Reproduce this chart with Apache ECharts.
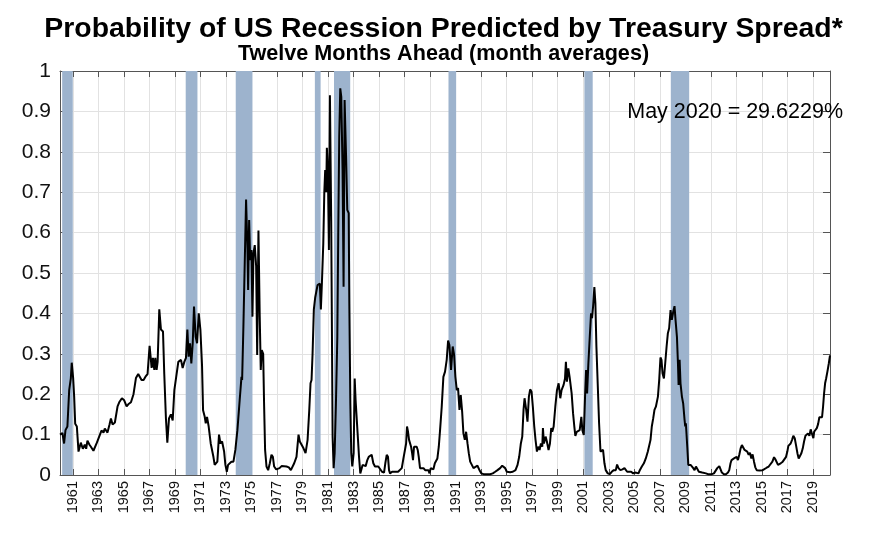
<!DOCTYPE html>
<html>
<head>
<meta charset="utf-8">
<script src="https://cdn.jsdelivr.net/npm/echarts@6/dist/echarts.min.js"></script>
<style>html,body{margin:0;padding:0;background:#fff}#c{width:887px;height:544px}</style>
</head>
<body>
<div id="c"></div>
<script>
// ---- DATA (decimal year, probability) ----
const seg1960s = [[1960.0,0.10],[1960.19,0.104],[1960.32,0.078],[1960.43,0.111],[1960.58,0.12],[1960.72,0.21],[1960.85,0.24],[1960.92,0.278],[1961.03,0.24],[1961.11,0.194],[1961.19,0.127],[1961.32,0.12],[1961.45,0.058],[1961.63,0.08],[1961.79,0.065],[1961.94,0.075],[1962.05,0.065],[1962.15,0.085],[1962.31,0.075],[1962.42,0.07],[1962.62,0.06],[1962.73,0.06],[1962.89,0.08],[1963.07,0.095],[1963.25,0.11],[1963.41,0.105],[1963.51,0.115],[1963.72,0.105],[1963.88,0.125],[1963.99,0.14],[1964.12,0.125],[1964.30,0.13],[1964.51,0.17],[1964.64,0.18],[1964.85,0.19],[1965.03,0.185],[1965.22,0.17],[1965.35,0.175],[1965.56,0.18],[1965.76,0.20],[1965.95,0.24],[1966.13,0.25],[1966.26,0.25],[1966.39,0.235],[1966.55,0.235],[1966.73,0.245],[1966.86,0.25],[1967.02,0.32],[1967.18,0.265],[1967.28,0.29],[1967.39,0.26],[1967.47,0.29],[1967.57,0.26],[1967.65,0.28],[1967.78,0.41],[1967.91,0.36],[1968.07,0.355],[1968.17,0.25],[1968.30,0.14],[1968.41,0.08],[1968.54,0.14],[1968.69,0.15],[1968.83,0.135],[1968.96,0.21],[1969.11,0.21],[1969.27,0.28],[1969.48,0.285],[1969.61,0.265],[1969.74,0.28],[1969.87,0.29]];
const seg1970s = [[1969.98,0.36],[1970.08,0.293],[1970.19,0.326],[1970.29,0.276],[1970.40,0.326],[1970.50,0.417],[1970.63,0.342],[1970.74,0.326],[1970.87,0.40],[1971.00,0.36],[1971.13,0.27],[1971.21,0.16],[1971.34,0.144],[1971.42,0.128],[1971.52,0.144],[1971.65,0.12],[1971.81,0.078],[1971.91,0.077],[1972.02,0.045],[1972.12,0.025],[1972.25,0.029],[1972.33,0.033],[1972.46,0.10],[1972.57,0.078],[1972.70,0.083],[1972.86,0.058],[1972.96,0.025],[1973.07,0.008],[1973.17,0.025],[1973.30,0.025],[1973.43,0.033],[1973.59,0.033],[1973.74,0.062],[1973.90,0.111],[1974.08,0.186],[1974.22,0.243],[1974.27,0.235],[1974.37,0.367],[1974.48,0.532],[1974.58,0.682],[1974.69,0.557],[1974.74,0.458],[1974.82,0.631],[1974.90,0.532],[1975.00,0.557],[1975.08,0.392],[1975.16,0.549],[1975.26,0.569],[1975.37,0.516],[1975.45,0.297],[1975.55,0.605],[1975.65,0.392],[1975.73,0.26],[1975.81,0.309],[1975.92,0.30],[1975.99,0.177],[1976.07,0.062],[1976.18,0.021],[1976.31,0.012],[1976.44,0.029],[1976.57,0.05],[1976.68,0.045],[1976.78,0.021],[1976.94,0.014],[1977.04,0.011],[1977.20,0.017],[1977.36,0.022],[1977.51,0.021],[1977.75,0.021],[1977.93,0.019],[1978.09,0.012],[1978.19,0.014],[1978.35,0.029],[1978.53,0.045],[1978.69,0.10],[1978.79,0.083],[1978.92,0.08],[1979.08,0.066],[1979.24,0.054],[1979.40,0.087],[1979.53,0.16]];
const seg1980s = [[1979.63,0.227],[1979.71,0.235],[1979.79,0.30],[1979.89,0.41],[1980.00,0.44],[1980.10,0.44],[1980.18,0.47],[1980.29,0.466],[1980.36,0.474],[1980.44,0.41],[1980.52,0.474],[1980.63,0.573],[1980.71,0.70],[1980.78,0.755],[1980.86,0.70],[1980.91,0.81],[1980.99,0.755],[1981.07,0.557],[1981.15,0.94],[1981.25,0.63],[1981.36,0.095],[1981.44,0.017],[1981.52,0.054],[1981.62,0.177],[1981.73,0.342],[1981.80,0.59],[1981.88,0.837],[1981.96,0.957],[1982.04,0.936],[1982.14,0.755],[1982.22,0.466],[1982.30,0.928],[1982.41,0.796],[1982.51,0.656],[1982.62,0.648],[1982.67,0.425],[1982.75,0.177],[1982.82,0.054],[1982.90,0.021],[1983.01,0.054],[1983.09,0.239],[1983.16,0.186],[1983.24,0.182],[1983.32,0.103],[1983.43,0.045],[1983.53,0.004],[1983.61,0.0],[1983.71,0.025],[1983.82,0.021],[1983.95,0.022],[1984.08,0.037],[1984.19,0.045],[1984.32,0.041],[1984.42,0.05],[1984.55,0.029],[1984.68,0.021],[1984.81,0.017],[1984.94,0.021],[1985.07,0.017],[1985.23,0.008],[1985.39,0.006],[1985.49,0.029],[1985.60,0.05],[1985.70,0.045],[1985.78,0.012],[1985.86,0.004],[1986.02,0.008],[1986.17,0.006],[1986.33,0.008],[1986.49,0.008],[1986.64,0.01],[1986.78,0.017],[1986.91,0.041],[1987.04,0.045],[1987.12,0.078],[1987.19,0.12],[1987.27,0.107],[1987.35,0.087],[1987.43,0.088],[1987.51,0.07],[1987.59,0.054],[1987.66,0.037],[1987.74,0.07],[1987.85,0.074],[1987.95,0.07],[1988.03,0.062],[1988.11,0.045],[1988.21,0.017],[1988.35,0.017],[1988.48,0.017],[1988.61,0.012],[1988.74,0.008],[1988.87,0.012],[1988.95,0.004],[1989.05,0.017],[1989.16,0.021],[1989.26,0.014],[1989.37,0.029],[1989.47,0.033],[1989.57,0.041],[1989.68,0.07],[1989.78,0.111],[1989.91,0.169]];
const seg1990s = [[1990.04,0.243],[1990.17,0.256],[1990.30,0.285],[1990.41,0.333],[1990.51,0.322],[1990.64,0.26],[1990.77,0.318],[1990.88,0.297],[1990.98,0.243],[1991.09,0.21],[1991.19,0.215],[1991.30,0.161],[1991.40,0.198],[1991.51,0.157],[1991.61,0.103],[1991.72,0.087],[1991.82,0.107],[1991.93,0.078],[1992.03,0.054],[1992.14,0.033],[1992.27,0.025],[1992.40,0.017],[1992.55,0.021],[1992.71,0.023],[1992.87,0.012],[1993.02,0.004],[1993.18,0.002],[1993.44,0.002],[1993.70,0.002],[1993.91,0.004],[1994.10,0.008],[1994.28,0.012],[1994.49,0.017],[1994.65,0.023],[1994.75,0.025],[1994.88,0.017],[1995.01,0.008],[1995.14,0.012],[1995.27,0.007],[1995.48,0.008],[1995.69,0.012],[1995.85,0.025],[1995.98,0.045],[1996.11,0.078],[1996.22,0.095],[1996.32,0.161],[1996.40,0.19],[1996.53,0.161],[1996.63,0.132],[1996.74,0.194],[1996.84,0.212],[1996.95,0.206],[1997.05,0.169],[1997.16,0.12],[1997.26,0.087],[1997.37,0.058],[1997.47,0.07],[1997.58,0.062],[1997.68,0.078],[1997.79,0.07],[1997.84,0.116],[1997.92,0.078],[1998.05,0.095],[1998.15,0.083],[1998.28,0.062],[1998.39,0.078],[1998.49,0.116],[1998.57,0.107],[1998.68,0.12],[1998.81,0.169],[1998.94,0.21],[1999.07,0.227],[1999.20,0.19],[1999.30,0.21],[1999.46,0.223],[1999.57,0.239],[1999.64,0.28],[1999.72,0.231],[1999.83,0.264],[1999.93,0.243]];
const seg2000s = [[2000.09,0.202],[2000.20,0.153],[2000.30,0.12],[2000.38,0.097],[2000.49,0.107],[2000.62,0.107],[2000.72,0.111],[2000.85,0.144],[2000.93,0.111],[2001.04,0.099],[2001.14,0.194],[2001.22,0.26],[2001.30,0.202],[2001.40,0.276],[2001.51,0.342],[2001.61,0.40],[2001.69,0.388],[2001.77,0.417],[2001.87,0.465],[2001.95,0.425],[2002.03,0.318],[2002.14,0.219],[2002.24,0.128],[2002.35,0.058],[2002.45,0.054],[2002.55,0.062],[2002.66,0.029],[2002.76,0.012],[2002.92,0.004],[2003.08,0.002],[2003.23,0.008],[2003.39,0.012],[2003.55,0.012],[2003.65,0.026],[2003.76,0.017],[2003.91,0.012],[2004.07,0.014],[2004.23,0.017],[2004.33,0.019],[2004.44,0.008],[2004.59,0.006],[2004.75,0.008],[2004.91,0.004],[2005.07,0.006],[2005.17,0.008],[2005.33,0.004],[2005.43,0.012],[2005.59,0.021],[2005.75,0.029],[2005.90,0.041],[2006.06,0.058],[2006.17,0.062],[2006.27,0.087],[2006.37,0.12],[2006.48,0.14],[2006.58,0.161],[2006.69,0.169],[2006.85,0.194],[2006.95,0.235],[2007.05,0.291],[2007.13,0.285],[2007.21,0.252],[2007.32,0.239],[2007.42,0.276],[2007.53,0.318],[2007.63,0.351],[2007.73,0.363],[2007.84,0.408],[2007.94,0.384],[2008.05,0.404],[2008.15,0.418],[2008.23,0.384],[2008.34,0.342],[2008.42,0.276],[2008.47,0.223],[2008.55,0.285],[2008.62,0.227],[2008.73,0.194],[2008.83,0.177],[2008.94,0.136],[2008.99,0.12],[2009.04,0.128],[2009.15,0.07],[2009.23,0.025],[2009.30,0.029],[2009.41,0.025],[2009.51,0.029],[2009.62,0.017],[2009.72,0.012],[2009.83,0.021],[2009.93,0.017],[2010.06,0.008]];
const seg2010s = [[2010.19,0.012],[2010.32,0.006],[2010.45,0.002],[2010.61,0.004],[2010.77,0.002],[2010.92,0.002],[2011.08,0.002],[2011.24,0.004],[2011.37,0.008],[2011.50,0.017],[2011.66,0.022],[2011.76,0.014],[2011.86,0.006],[2012.02,0.002],[2012.18,0.002],[2012.34,0.006],[2012.44,0.012],[2012.54,0.029],[2012.62,0.037],[2012.70,0.035],[2012.81,0.041],[2012.91,0.039],[2013.02,0.045],[2013.12,0.037],[2013.225,0.05],[2013.33,0.066],[2013.43,0.074],[2013.54,0.07],[2013.64,0.062],[2013.75,0.064],[2013.85,0.058],[2013.96,0.05],[2014.06,0.055],[2014.17,0.041],[2014.27,0.051],[2014.38,0.033],[2014.48,0.019],[2014.59,0.012],[2014.69,0.014],[2014.80,0.011],[2014.90,0.014],[2015.06,0.012],[2015.21,0.015],[2015.37,0.018],[2015.53,0.021],[2015.68,0.025],[2015.82,0.033],[2015.95,0.044],[2016.05,0.039],[2016.16,0.037],[2016.26,0.025],[2016.37,0.029],[2016.47,0.029],[2016.63,0.033],[2016.78,0.035],[2016.89,0.045],[2016.99,0.058],[2017.07,0.072],[2017.15,0.07],[2017.25,0.078],[2017.36,0.087],[2017.46,0.097],[2017.57,0.091],[2017.67,0.074],[2017.78,0.054],[2017.88,0.041],[2017.99,0.037],[2018.09,0.054],[2018.20,0.066],[2018.30,0.083],[2018.41,0.097],[2018.51,0.095],[2018.61,0.103],[2018.72,0.097],[2018.82,0.113],[2018.93,0.101],[2019.03,0.091],[2019.09,0.107],[2019.19,0.111],[2019.30,0.116],[2019.40,0.126],[2019.50,0.143],[2019.61,0.146],[2019.71,0.143],[2019.79,0.169],[2019.87,0.202],[2019.95,0.227],[2020.03,0.239],[2020.13,0.256],[2020.24,0.276],[2020.3333,0.296229]];

// Recession periods (start, end) as decimal years
const recessionStarts = [1960.17, 1969.85, 1973.77, 1979.97, 1981.47, 1990.44, 2001.09, 2007.86];
const recessionEnds   = [1961.00, 1970.77, 1975.08, 1980.42, 1982.74, 1991.04, 2001.74, 2009.30];

// Axis: monthly, Jan 1960 .. May 2020; labelled ticks at January of odd years
const firstYear = 1960;
const lastYear = 2020, lastMonth = 5;
const yTickLabels = ['0', '0.1', '0.2', '0.3', '0.4', '0.5', '0.6', '0.7', '0.8', '0.9', '1'];

const titleText = 'Probability of US Recession Predicted by Treasury Spread*';
const subtitleText = 'Twelve Months Ahead (month averages)';
const noteText = 'May 2020 = 29.6229%';

// ---- build ----
const FONT = '"Liberation Sans", Arial, Helvetica, sans-serif';
const monthCats = [];
for (let y = firstYear; y <= lastYear; y++) {
  for (let m = 1; m <= 12; m++) {
    if (y === lastYear && m > lastMonth) break;
    monthCats.push(y + '-' + (m < 10 ? '0' + m : m));
  }
}
const lastDec = lastYear + (lastMonth - 1) / 12;
const allData = [].concat(seg1960s, seg1970s, seg1980s, seg1990s, seg2000s, seg2010s);
const bands = recessionStarts.map((s, i) => [{xAxis: s}, {xAxis: recessionEnds[i]}]);
const isOddJan = (idx, val) => {
  const y = parseInt(val.slice(0, 4), 10);
  return val.slice(5) === '01' && y % 2 === 1;
};

const axisColor = '#555';
const catBase = {
  type: 'category', data: monthCats, boundaryGap: false,
  axisLine: {show: true, onZero: false, lineStyle: {color: axisColor, width: 1}},
  axisTick: {show: true, inside: true, length: 6, interval: isOddJan, lineStyle: {color: axisColor}},
};
const yBase = {
  type: 'value', min: 0, max: 1, interval: 0.1,
  axisLine: {show: true, lineStyle: {color: axisColor, width: 1}},
  axisTick: {show: true, inside: true, length: 7, lineStyle: {color: axisColor}},
};

const chart = echarts.init(document.getElementById('c'));
chart.setOption({
  animation: false,
  backgroundColor: '#fff',
  title: [
    {text: titleText, left: 'center', top: 10,
     textStyle: {fontFamily: FONT, fontSize: 28.4, fontWeight: 'bold', color: '#000'}},
    {text: subtitleText, left: 'center', top: 38,
     textStyle: {fontFamily: FONT, fontSize: 21.6, fontWeight: 'bold', color: '#000'}}
  ],
  grid: {left: 60, right: 57, top: 71, bottom: 69, containLabel: false},
  xAxis: [
    Object.assign({}, catBase, {
      position: 'bottom',
      splitLine: {show: true, interval: isOddJan, lineStyle: {color: '#e2e2e2', width: 1}},
      axisLabel: {
        show: true, interval: isOddJan, rotate: 90, margin: 6,
        fontFamily: FONT, fontSize: 14.5, color: '#111',
        formatter: v => v.slice(0, 4)
      }
    }),
    Object.assign({}, catBase, {
      position: 'top',
      splitLine: {show: false},
      axisLabel: {show: false}
    }),
    {type: 'value', min: firstYear, max: lastDec, show: false, position: 'bottom'}
  ],
  yAxis: [
    Object.assign({}, yBase, {
      position: 'left',
      splitLine: {show: true, lineStyle: {color: '#e2e2e2', width: 1}},
      axisLabel: {show: true, margin: 9, fontFamily: FONT, fontSize: 21, color: '#111',
        formatter: (v) => yTickLabels[Math.round(v * 10)]}
    }),
    Object.assign({}, yBase, {
      position: 'right',
      splitLine: {show: false},
      axisLabel: {show: false}
    })
  ],
  series: [
    {
      type: 'line', data: [], xAxisIndex: 2, yAxisIndex: 0, z: 1, silent: true,
      markArea: {silent: true, itemStyle: {color: 'rgb(157,179,205)', opacity: 1}, data: bands}
    },
    {
      type: 'line', data: allData, xAxisIndex: 2, yAxisIndex: 0, z: 5, symbol: 'none', silent: true,
      lineStyle: {color: '#000', width: 2}
    }
  ],
  graphic: [
    {type: 'text', right: 44, top: 101, z: 100,
     style: {text: noteText, fill: '#000', font: '21.5px ' + FONT}}
  ]
});
</script>
</body>
</html>
